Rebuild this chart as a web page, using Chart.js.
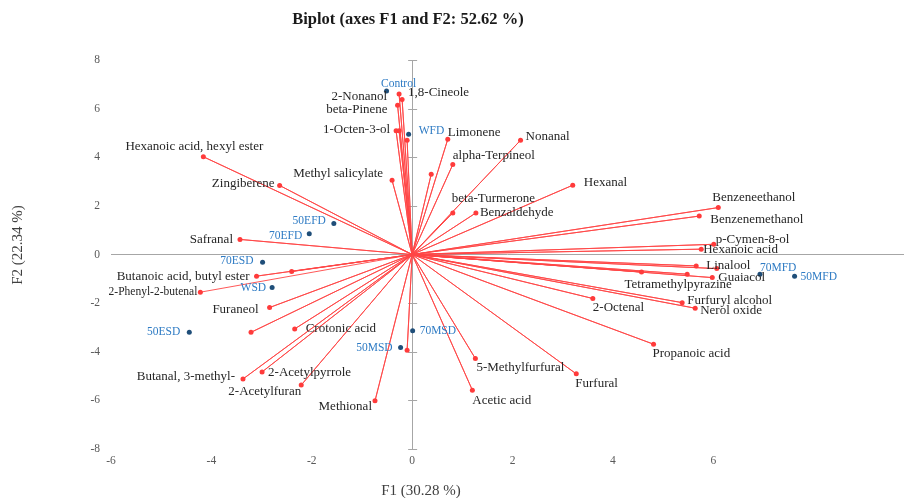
<!DOCTYPE html>
<html>
<head>
<meta charset="utf-8">
<title>Biplot (axes F1 and F2: 52.62 %)</title>
<script src="https://cdn.jsdelivr.net/npm/chart.js@4.4.1/dist/chart.umd.min.js"></script>
<style>
  html, body { margin: 0; padding: 0; background: #fff; }
  #wrap { width: 908px; height: 498px; }
</style>
</head>
<body>
<div id="wrap"><canvas id="biplot" width="908" height="498"></canvas></div>
<script>
// variables (red vectors)
const varNames = [
  '2-Nonanol', '1,8-Cineole', 'beta-Pinene', '1-Octen-3-ol', '', '',
  'Limonene', 'Nonanal', 'alpha-Terpineol', '', 'Methyl salicylate',
  'Hexanoic acid, hexyl ester', 'Zingiberene', 'Safranal', 'beta-Turmerone',
  'Benzaldehyde', 'Hexanal', 'Benzeneethanol', 'Benzenemethanol', 'p-Cymen-8-ol',
  'Hexanoic acid', 'Linalool', '', 'Guaiacol', '', 'Tetramethylpyrazine',
  'Furfuryl alcohol', 'Nerol oxide', '2-Octenal', 'Propanoic acid', 'Furfural',
  '5-Methylfurfural', 'Acetic acid', '', 'Methional', '2-Acetylfuran',
  '2-Acetylpyrrole', 'Butanal, 3-methyl-', 'Crotonic acid', '', 'Furaneol',
  'Butanoic acid, butyl ester', '', '2-Phenyl-2-butenal'
];
const varF1 = [
  -0.26, -0.20, -0.29, -0.32, -0.26, -0.10,
  0.71, 2.16, 0.81, 0.38, -0.40,
  -4.16, -2.64, -3.43, 0.81,
  1.27, 3.20, 6.10, 5.72, 6.01,
  5.76, 5.66, 6.07, 5.98, 4.57, 5.48,
  5.38, 5.64, 3.60, 4.81, 3.27,
  1.26, 1.20, -0.10, -0.74, -2.21,
  -2.99, -3.37, -2.34, -3.21, -2.84,
  -3.10, -2.40, -4.22
];
const varF2 = [
  6.60, 6.38, 6.14, 5.09, 5.09, 4.70,
  4.74, 4.70, 3.70, 3.30, 3.05,
  4.02, 2.84, 0.62, 1.71,
  1.71, 2.85, 1.93, 1.58, 0.42,
  0.22, -0.47, -0.58, -0.95, -0.72, -0.81,
  -1.98, -2.21, -1.81, -3.69, -4.91,
  -4.28, -5.58, -3.94, -6.02, -5.37,
  -4.83, -5.12, -3.06, -3.20, -2.18,
  -0.89, -0.70, -1.55
];

// observations (blue points)
const obsNames = ['Control', 'WFD', '50EFD', '70EFD', '70ESD', 'WSD', '50ESD', '70MSD', '50MSD', '70MFD', '50MFD'];
const obsF1 = [-0.51, -0.07, -1.56, -2.05, -2.98, -2.79, -4.44, 0.01, -0.23, 6.93, 7.62];
const obsF2 = [6.73, 4.95, 1.28, 0.85, -0.32, -1.36, -3.20, -3.14, -3.83, -0.81, -0.89];

const xTicks = [-6, -4, -2, 0, 2, 4, 6];
const yTicks = [-8, -6, -4, -2, 0, 2, 4, 6, 8];

// label placement: [dx, dy, align, fontSize]
const varLabelPos = {
  '2-Nonanol': [-12, 3, 'right'],
  '1,8-Cineole': [6, -7, 'left'],
  'beta-Pinene': [-10, 4, 'right'],
  '1-Octen-3-ol': [-6, -1, 'right'],
  'Limonene': [0, -7, 'left'],
  'Nonanal': [5, -4, 'left'],
  'alpha-Terpineol': [0, -9, 'left'],
  'Methyl salicylate': [-9, -7, 'right'],
  'Hexanoic acid, hexyl ester': [-9, -10, 'center'],
  'Zingiberene': [-5, -2, 'right'],
  'Safranal': [-7, 0, 'right'],
  'beta-Turmerone': [-1, -14, 'left'],
  'Benzaldehyde': [4, 0, 'left'],
  'Hexanal': [11, -3, 'left'],
  'Benzeneethanol': [-6, -10, 'left'],
  'Benzenemethanol': [11, 3, 'left'],
  'p-Cymen-8-ol': [2, -5, 'left'],
  'Hexanoic acid': [2, 0, 'left'],
  'Linalool': [10, 0, 'left'],
  'Guaiacol': [6, 0, 'left'],
  'Tetramethylpyrazine': [-9, 10, 'center'],
  'Furfuryl alcohol': [5, -2, 'left'],
  'Nerol oxide': [5, 2, 'left'],
  '2-Octenal': [0, 9, 'left'],
  'Propanoic acid': [-1, 9, 'left'],
  'Furfural': [-1, 10, 'left'],
  '5-Methylfurfural': [1, 9, 'left'],
  'Acetic acid': [0, 10, 'left'],
  'Methional': [-3, 6, 'right'],
  '2-Acetylfuran': [0, 7, 'right'],
  '2-Acetylpyrrole': [6, 1, 'left'],
  'Butanal, 3-methyl-': [-8, -2, 'right'],
  'Crotonic acid': [11, 0, 'left'],
  'Furaneol': [-11, 2, 'right'],
  'Butanoic acid, butyl ester': [-7, 0, 'right'],
  '2-Phenyl-2-butenal': [-3, 0, 'right', 11.5]
};
const obsLabelPos = {
  'Control': [12, -7, 'center'],
  'WFD': [10, -3, 'left'],
  '50EFD': [-8, -2, 'right'],
  '70EFD': [-7, 2, 'right'],
  '70ESD': [-9, -1, 'right'],
  'WSD': [-6, 0, 'right'],
  '50ESD': [-9, 0, 'right'],
  '70MSD': [7, 0, 'left'],
  '50MSD': [-8, 0, 'right'],
  '70MFD': [0, -6, 'left'],
  '50MFD': [6, 1, 'left']
};

const SERIF = '"Liberation Serif", "Times New Roman", serif';
const redLine = 'rgba(255, 70, 70, 0.9)';
const redDot = '#ff3b3b';
const blueDot = '#1f4e79';
const blueText = '#2e7bc4';
const axisGray = '#a6a6a6';

const varPoints = varF1.map((v, i) => ({ x: v, y: varF2[i] }));
const obsPoints = obsF1.map((v, i) => ({ x: v, y: obsF2[i] }));
// origin -> point -> origin -> point ... so each vector is a segment from (0,0)
const vectorPath = [];
varPoints.forEach(p => { vectorPath.push({ x: 0, y: 0 }); vectorPath.push(p); });

function drawLabels(chart, dsIndex, names, layout, color, baseSize) {
  const ctx = chart.ctx;
  const meta = chart.getDatasetMeta(dsIndex);
  meta.data.forEach((el, i) => {
    const name = names[i];
    if (!name) return;
    const pos = layout[name] || [6, 0, 'left'];
    ctx.font = (pos[3] || baseSize) + 'px ' + SERIF;
    ctx.fillStyle = color;
    ctx.textAlign = pos[2];
    ctx.fillText(name, el.x + pos[0], el.y + pos[1]);
  });
}

const biplotText = {
  id: 'biplotText',
  beforeDatasetsDraw(chart) {
    // small tick marks on the vertical axis at F1 = 0
    const ctx = chart.ctx;
    const x0 = chart.scales.x.getPixelForValue(0);
    ctx.save();
    ctx.strokeStyle = axisGray;
    ctx.lineWidth = 1;
    yTicks.forEach(v => {
      const py = Math.round(chart.scales.y.getPixelForValue(v)) + 0.5;
      ctx.beginPath();
      ctx.moveTo(x0 - 4, py);
      ctx.lineTo(x0 + 5, py);
      ctx.stroke();
    });
    ctx.restore();
  },
  afterDatasetsDraw(chart) {
    const ctx = chart.ctx;
    ctx.save();
    ctx.textBaseline = 'middle';
    drawLabels(chart, 1, varNames, varLabelPos, '#262626', 13);
    drawLabels(chart, 2, obsNames, obsLabelPos, blueText, 11.5);

    // title and axis titles
    ctx.fillStyle = '#1a1a1a';
    ctx.textAlign = 'center';
    ctx.font = 'bold 16.5px ' + SERIF;
    ctx.fillText('Biplot (axes F1 and F2: 52.62 %)', 408, 20);
    ctx.font = '15px ' + SERIF;
    ctx.fillStyle = '#404040';
    ctx.fillText('F1 (30.28 %)', 421, 491);
    ctx.translate(18, 245);
    ctx.rotate(-Math.PI / 2);
    ctx.fillText('F2 (22.34 %)', 0, 0);
    ctx.restore();
  }
};

new Chart(document.getElementById('biplot'), {
  type: 'scatter',
  data: {
    datasets: [
      {
        label: 'vectors',
        data: vectorPath,
        showLine: true,
        borderColor: redLine,
        borderWidth: 1,
        pointRadius: 0,
        tension: 0,
        order: 3
      },
      {
        label: 'Variables',
        data: varPoints,
        backgroundColor: redDot,
        borderColor: redDot,
        borderWidth: 0,
        pointRadius: 2.5,
        order: 2
      },
      {
        label: 'Observations',
        data: obsPoints,
        backgroundColor: blueDot,
        borderColor: blueDot,
        borderWidth: 0,
        pointRadius: 2.5,
        order: 1
      }
    ]
  },
  options: {
    responsive: false,
    animation: false,
    events: [],
    layout: { padding: { top: 60, right: 0, bottom: 0, left: 0 } },
    plugins: {
      legend: { display: false },
      tooltip: { enabled: false },
      title: { display: false }
    },
    scales: {
      x: {
        type: 'linear',
        min: -6,
        max: 9.8,
        afterBuildTicks: s => { s.ticks = xTicks.map(v => ({ value: v })); },
        afterFit: s => { s.height = 49; },
        grid: {
          color: c => (c.tick && c.tick.value === 0 ? axisGray : 'rgba(0,0,0,0)'),
          drawTicks: false,
          lineWidth: 1
        },
        border: { display: false },
        ticks: {
          padding: 5,
          color: '#595959',
          font: { family: SERIF, size: 11.5 }
        }
      },
      y: {
        type: 'linear',
        min: -8,
        max: 8,
        afterBuildTicks: s => { s.ticks = yTicks.map(v => ({ value: v })); },
        afterFit: s => { s.width = 111; },
        grid: {
          color: c => (c.tick && c.tick.value === 0 ? axisGray : 'rgba(0,0,0,0)'),
          drawTicks: false,
          lineWidth: 1
        },
        border: { display: false },
        ticks: {
          padding: 11,
          color: '#595959',
          font: { family: SERIF, size: 11.5 }
        }
      }
    }
  },
  plugins: [biplotText]
});
</script>
</body>
</html>
